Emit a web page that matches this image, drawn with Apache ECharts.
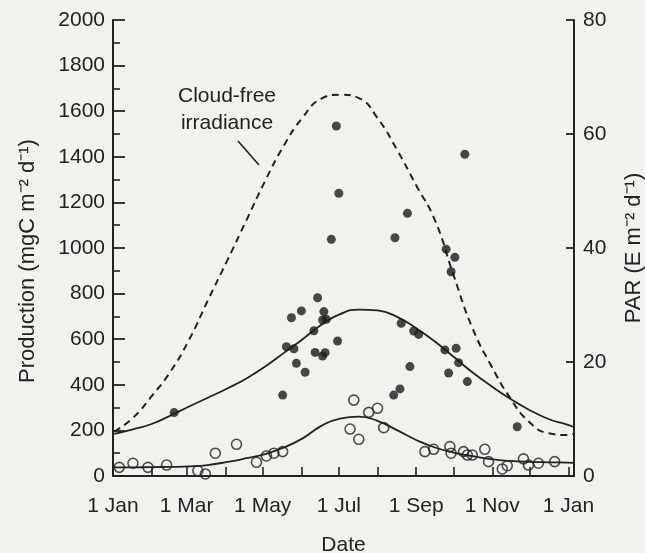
<!DOCTYPE html>
<html>
<head>
<meta charset="utf-8">
<script src="https://cdn.jsdelivr.net/npm/echarts@6/dist/echarts.min.js"></script>
<style>
  html, body { margin: 0; padding: 0; background: #f2f1ed; }
  #chart { width: 645px; height: 553px; }
</style>
</head>
<body>
<div id="chart"></div>
<script>
// Day of year (0 = 1 Jan) for each month start, through the following 1 Jan
const monthStartDays = [0, 31, 59, 90, 120, 151, 181, 212, 243, 273, 304, 334, 365];
const labelDays = [0, 59, 120, 181, 243, 304, 365];
const labelTexts = ['1 Jan', '1 Mar', '1 May', '1 Jul', '1 Sep', '1 Nov', '1 Jan'];

// Daily production, filled symbols (mgC m-2 d-1)
const filledDays = [49, 136, 139, 143, 145, 147, 151, 154, 161, 162, 164, 168, 168, 169, 170, 171, 175, 179, 180, 181,
  225, 230, 226, 231, 236, 238, 241, 245, 266, 267, 269, 271, 274, 275, 277, 282, 284, 324];
const filledProduction = [278, 355, 567, 694, 558, 494, 724, 455, 637, 542, 782, 526, 684, 721, 541, 687, 1038, 1535, 592, 1240,
  355, 382, 1045, 670, 1152, 480, 636, 621, 553, 995, 452, 896, 959, 560, 497, 1411, 414, 216];

// Daily production, open symbols (mgC m-2 d-1)
const openDays = [5, 16, 28, 43, 68, 74, 82, 99, 115, 123, 129, 136, 193, 205, 212, 190, 197, 217,
  250, 257, 270, 271, 281, 284, 288, 298, 301, 312, 316, 329, 333, 341, 354];
const openProduction = [38, 56, 38, 48, 23, 9, 100, 139, 60, 88, 100, 107, 333, 279, 297, 206, 161, 212,
  107, 117, 129, 100, 107, 92, 92, 117, 63, 31, 45, 75, 48, 56, 63];

// Seasonal curves sampled through the year
const curveDays = [1, 16, 31, 46, 61, 76, 92, 107, 122, 137, 152, 167, 182, 197, 212, 228, 243, 258, 273, 288, 303, 318, 333, 349, 364, 369];
const upperFit = [185, 205, 228, 265, 305, 343, 385, 428, 480, 540, 600, 663, 710, 730, 726, 697, 648, 590, 523, 455, 395, 340, 292, 250, 225, 216];
const lowerFit = [38, 38, 39, 40, 42, 48, 62, 78, 96, 125, 165, 220, 252, 260, 242, 200, 158, 125, 103, 87, 74, 66, 62, 60, 59, 58];
// Cloud-free irradiance, PAR (E m-2 d-1)
const clearSkyPAR = [7.8, 10.2, 14.0, 18.3, 23.9, 30.8, 38.0, 44.9, 51.8, 58.0, 62.9, 66.2, 66.9, 66.3, 62.8, 57.1, 51.0, 44.9, 35.2, 26.0, 19.4, 13.8, 9.6, 7.5, 7.2, 7.4];

const ink = '#222222';
const font = '"Liberation Sans", Arial, Helvetica, sans-serif';

const pairs = (xs, ys) => xs.map((x, i) => [x, ys[i]]);

const chart = echarts.init(document.getElementById('chart'), null, { renderer: 'canvas' });

chart.setOption({
  backgroundColor: '#f2f1ed',
  animation: false,
  textStyle: { fontFamily: font, color: ink },
  grid: { left: 113, right: 71, top: 20, bottom: 77, containLabel: false, outerBoundsMode: 'none' },
  xAxis: {
    type: 'value',
    min: 0,
    max: 369.5,
    name: 'Date',
    nameLocation: 'middle',
    nameGap: 59,
    nameTextStyle: { fontSize: 21, color: ink, fontFamily: font },
    axisLine: { lineStyle: { color: ink, width: 2 } },
    axisTick: { inside: true, length: 9, customValues: monthStartDays, lineStyle: { color: ink, width: 1.6 } },
    axisLabel: {
      customValues: labelDays,
      margin: 20,
      fontSize: 21,
      color: ink,
      fontFamily: font,
      formatter: v => labelTexts[labelDays.indexOf(v)]
    },
    splitLine: { show: false }
  },
  yAxis: [
    {
      type: 'value',
      min: 0,
      max: 2000,
      interval: 200,
      axisLine: { show: true, lineStyle: { color: ink, width: 2 } },
      axisTick: { inside: true, length: 12, lineStyle: { color: ink, width: 1.8 } },
      minorTick: { show: true, splitNumber: 2, length: 7, lineStyle: { color: ink, width: 1.6 } },
      axisLabel: { margin: 8, fontSize: 21, color: ink, fontFamily: font, formatter: v => String(v) },
      splitLine: { show: false }
    },
    {
      type: 'value',
      position: 'right',
      min: 0,
      max: 80,
      interval: 20,
      axisLine: { show: true, lineStyle: { color: ink, width: 2 } },
      axisTick: { inside: true, length: 8, lineStyle: { color: ink, width: 1.8 } },
      axisLabel: { margin: 9, fontSize: 21, color: ink, fontFamily: font, formatter: v => String(v) },
      splitLine: { show: false }
    }
  ],
  series: [
    {
      type: 'line',
      yAxisIndex: 1,
      data: pairs(curveDays, clearSkyPAR),
      smooth: true,
      showSymbol: false,
      lineStyle: { color: ink, width: 2, type: [7, 5] },
      z: 2
    },
    {
      type: 'line',
      data: pairs(curveDays, upperFit),
      smooth: true,
      showSymbol: false,
      lineStyle: { color: ink, width: 1.8 },
      z: 2
    },
    {
      type: 'line',
      data: pairs(curveDays, lowerFit),
      smooth: true,
      showSymbol: false,
      lineStyle: { color: ink, width: 1.8 },
      z: 2
    },
    {
      type: 'scatter',
      data: pairs(filledDays, filledProduction),
      symbol: 'circle',
      symbolSize: 9,
      itemStyle: { color: '#1c1c1c' },
      z: 3
    },
    {
      type: 'scatter',
      data: pairs(openDays, openProduction),
      symbol: 'circle',
      symbolSize: 10,
      itemStyle: { color: 'rgba(0,0,0,0)', borderColor: ink, borderWidth: 1.6 },
      z: 3
    }
  ],
  graphic: [
    {
      type: 'text',
      x: 227, y: 110,
      style: {
        text: 'Cloud-free\nirradiance',
        fontSize: 21,
        lineHeight: 27,
        fontFamily: font,
        fill: ink,
        align: 'center',
        verticalAlign: 'middle'
      }
    },
    {
      type: 'line',
      shape: { x1: 238, y1: 141, x2: 259, y2: 165 },
      style: { stroke: ink, lineWidth: 1.6 }
    },
    {
      type: 'text',
      x: 28, y: 261,
      rotation: Math.PI / 2,
      style: {
        text: 'Production (mgC m\u207B\u00B2 d\u207B\u00B9)',
        fontSize: 22,
        fontFamily: font,
        fill: ink,
        align: 'center',
        verticalAlign: 'middle'
      }
    },
    {
      type: 'text',
      x: 634, y: 248,
      rotation: Math.PI / 2,
      style: {
        text: 'PAR (E m\u207B\u00B2 d\u207B\u00B9)',
        fontSize: 22,
        fontFamily: font,
        fill: ink,
        align: 'center',
        verticalAlign: 'middle'
      }
    }
  ]
});
</script>
</body>
</html>
